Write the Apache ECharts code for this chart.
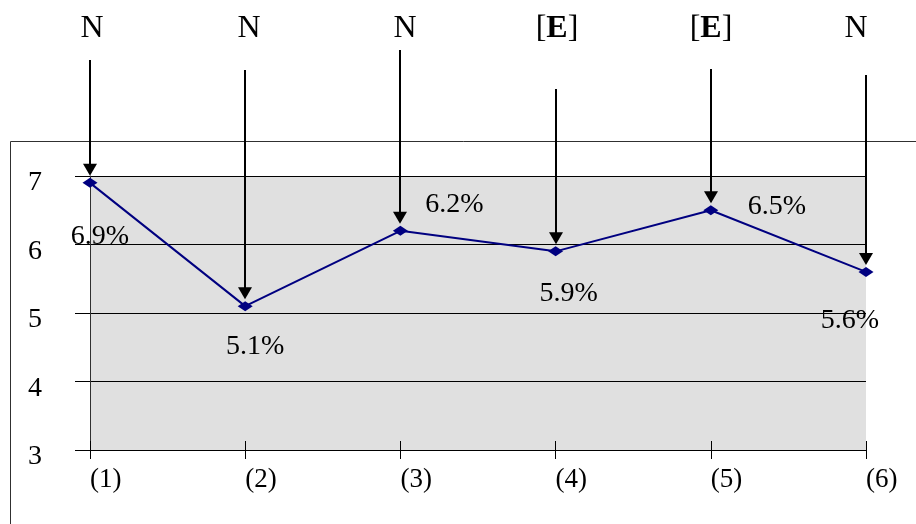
<!DOCTYPE html>
<html>
<head>
<meta charset="utf-8">
<script src="https://cdn.jsdelivr.net/npm/echarts@6/dist/echarts.min.js"></script>
<style>
  html, body { margin: 0; padding: 0; background: #fff; }
  #chart { width: 916px; height: 524px; }
</style>
</head>
<body>
<div id="chart"></div>
<script>
// Periods on the horizontal axis
const categories = ['(1)', '(2)', '(3)', '(4)', '(5)', '(6)'];
// Rate per period, in percent
const rates = [6.9, 5.1, 6.2, 5.9, 6.5, 5.6];
// Flag shown above each period ('E' is drawn bold inside brackets)
const flags = ['N', 'N', 'N', 'E', 'E', 'N'];
// Value-axis ticks
const yTicks = [3, 4, 5, 6, 7];

// Layout: where each rate label sits relative to its point (px)
const labelOffsets = [[10, 54], [10, 40], [54, -26], [13, 42], [66, -4], [-16, 49]];
// Layout: top end of each flag arrow (px from top) and flag text shift (px)
const arrowTops = [60, 70, 50, 89, 69, 75];
const flagShift = [2, 4, 5, 1, 0, -10];

const serif = "'Liberation Serif', 'Times New Roman', serif";

const chart = echarts.init(document.getElementById('chart'), null, { renderer: 'canvas' });

const option = {
  animation: false,
  backgroundColor: '#ffffff',
  graphic: [{
    type: 'rect',
    shape: { x: 10.5, y: 141.5, width: 1000, height: 500 },
    style: { fill: 'none', stroke: '#303030', lineWidth: 1 },
    silent: true,
    z: -10
  }],
  grid: {
    left: 90, right: 50, top: 176, bottom: 74,
    show: true, backgroundColor: '#e0e0e0', borderWidth: 0
  },
  xAxis: [{
    type: 'category',
    data: categories,
    boundaryGap: false,
    axisLine: { lineStyle: { color: '#000', width: 1 } },
    axisTick: { show: true, length: 9, lineStyle: { color: '#000' } },
    axisLabel: {
      color: '#000', fontFamily: serif, fontSize: 27,
      margin: 16, align: 'left'
    },
    splitLine: { show: false }
  }, {
    type: 'category',
    data: categories,
    boundaryGap: false,
    position: 'bottom',
    axisLine: { show: false },
    axisTick: { show: true, inside: true, length: 9, lineStyle: { color: '#000' } },
    axisLabel: { show: false },
    splitLine: { show: false }
  }],
  yAxis: {
    type: 'value',
    min: yTicks[0],
    max: yTicks[yTicks.length - 1],
    interval: yTicks[1] - yTicks[0],
    axisLine: { show: true, lineStyle: { color: '#303030', width: 1 } },
    axisTick: { show: true, length: 15, lineStyle: { color: '#000' } },
    axisLabel: {
      color: '#000', fontFamily: serif, fontSize: 28,
      margin: 48, verticalAlign: 'top', lineHeight: 14
    },
    splitLine: { show: true, lineStyle: { color: '#000', width: 1 } }
  },
  series: [{
    type: 'line',
    xAxisIndex: 0,
    data: rates.map((v, i) => ({
      value: v,
      label: { offset: labelOffsets[i] }
    })),
    lineStyle: { color: '#000080', width: 2 },
    itemStyle: { color: '#000080' },
    symbol: 'diamond',
    symbolSize: [15, 10],
    label: {
      show: true,
      position: 'inside',
      align: 'center',
      verticalAlign: 'middle',
      color: '#000',
      fontFamily: serif,
      fontSize: 28,
      formatter: p => p.value.toFixed(1) + '%'
    },
    z: 3
  }, {
    // Flag letters with arrows pointing down to each period's point
    type: 'custom',
    xAxisIndex: 0,
    clip: false,
    silent: true,
    data: rates.map((v, i) => [i, v]),
    encode: { x: 0, y: 1 },
    renderItem: function (params, api) {
      const idx = params.dataIndex;
      const p = api.coord([api.value(0), api.value(1)]);
      const x = Math.round(p[0]);
      const tip = p[1] - 7;
      const flag = flags[idx];
      const text = flag === 'E' ? '{b|[}{e|E}{b|]}' : '{b|' + flag + '}';
      return {
        type: 'group',
        children: [{
          type: 'line',
          shape: { x1: x, y1: arrowTops[idx], x2: x, y2: tip - 11 },
          style: { stroke: '#000', lineWidth: 2 }
        }, {
          type: 'polygon',
          shape: { points: [[x - 7, tip - 12], [x + 7, tip - 12], [x, tip]] },
          style: { fill: '#000' }
        }, {
          type: 'text',
          style: {
            x: x + flagShift[idx],
            y: 29,
            text: text,
            align: 'center',
            verticalAlign: 'middle',
            fill: '#000',
            rich: {
              b: { fontFamily: serif, fontSize: 32, fontWeight: 'normal', fill: '#000' },
              e: { fontFamily: serif, fontSize: 32, fontWeight: 'bold', fill: '#000' }
            }
          }
        }]
      };
    },
    z: 4
  }]
};

chart.setOption(option);
</script>
</body>
</html>
